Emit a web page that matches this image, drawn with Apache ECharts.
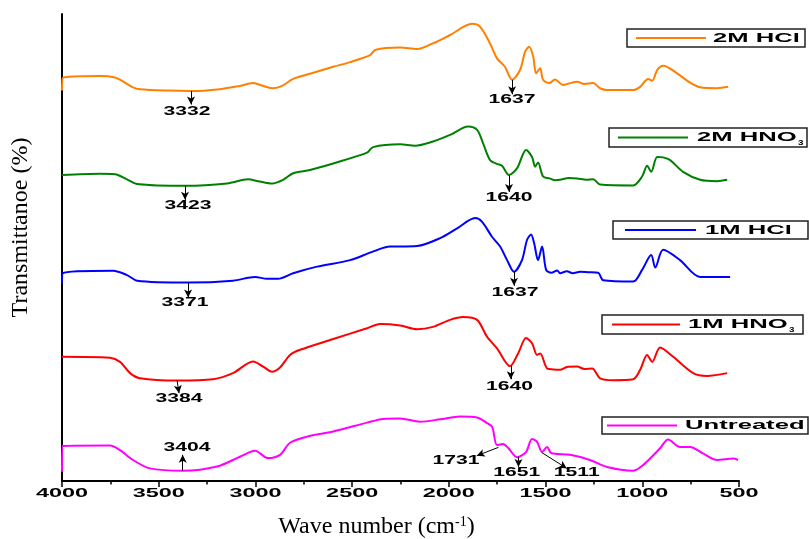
<!DOCTYPE html>
<html><head><meta charset="utf-8">
<script src="https://cdn.jsdelivr.net/npm/echarts@6/dist/echarts.min.js"></script>
<style>html,body{margin:0;padding:0;background:#fff}#c{width:809px;height:539px}</style>
</head><body><div id="c"></div><script>
// ---------- DATA ----------
const xTickLabels = [4000, 3500, 3000, 2500, 2000, 1500, 1000, 500];
const seriesNames = ['2M HCl', '2M HNO\u2083', '1M HCl', '1M HNO\u2083', 'Untreated'];
const legendMain = ['2M HCl', '2M HNO', '1M HCl', '1M HNO', 'Untreated'];
const legendSub = ['', '3', '', '3', ''];

const hcl2M = [[4000,83.6],[3996,86.3],[3803,86.7],[3726,86.4],[3690,85.7],[3633,84.3],[3597,83.9],[3457,83.6],[3333,83.5],[3183,83.9],[3080,84.6],[3012,85.2],[2960,84.6],[2909,84.1],[2862,84.6],[2805,86.1],[2718,87.2],[2598,88.7],[2511,89.7],[2407,91.2],[2381,92.3],[2252,92.8],[2164,92.5],[2082,93.7],[1994,95.5],[1880,97.9],[1839,97.3],[1787,93.7],[1751,90.5],[1710,88.7],[1673,85.9],[1632,88.0],[1606,91.9],[1585,93.0],[1564,90.9],[1549,87.3],[1528,88.4],[1513,85.9],[1480,85.2],[1452,86.0],[1409,84.8],[1380,85.1],[1337,85.5],[1300,85.0],[1254,85.2],[1218,84.1],[1182,83.7],[1047,83.7],[1011,84.4],[970,86.1],[949,85.7],[923,88.0],[892,88.9],[820,87.3],[753,85.3],[701,84.3],[613,84.1],[556,84.4]];

const hno32M = [[4000,65.5],[3803,65.8],[3726,65.7],[3664,64.6],[3612,63.6],[3364,63.2],[3147,63.7],[3038,64.6],[2986,64.2],[2914,63.7],[2857,64.5],[2805,65.9],[2718,66.6],[2598,68.0],[2423,70.3],[2392,71.5],[2252,72.1],[2175,71.8],[2082,72.7],[1994,74.1],[1901,75.9],[1854,75.2],[1823,72.3],[1787,68.7],[1751,67.9],[1725,67.5],[1689,65.5],[1647,67.0],[1601,70.9],[1570,69.4],[1554,67.3],[1539,68.2],[1513,65.2],[1480,64.8],[1450,64.4],[1425,64.5],[1380,64.9],[1337,64.8],[1290,64.5],[1254,64.6],[1218,63.5],[1047,63.3],[1001,65.2],[975,67.5],[954,66.2],[923,69.4],[892,69.3],[856,68.7],[789,66.2],[701,64.5],[613,64.2],[561,64.5]];

const hcl1M = [[4000,42.3],[3996,44.5],[3736,45.0],[3664,44.1],[3612,42.9],[3348,42.5],[3116,42.9],[3002,43.7],[2940,43.3],[2883,43.3],[2805,44.5],[2681,45.9],[2511,47.3],[2400,49.0],[2304,50.2],[2252,50.2],[2164,50.3],[2045,52.0],[1957,54.1],[1864,56.3],[1828,55.5],[1777,52.3],[1735,50.2],[1699,47.3],[1663,44.8],[1622,47.3],[1596,51.6],[1575,52.8],[1559,50.9],[1539,47.3],[1518,50.2],[1497,45.2],[1470,44.6],[1440,45.1],[1425,44.5],[1390,44.9],[1360,44.5],[1321,44.8],[1280,44.7],[1228,44.6],[1202,43.0],[1047,42.7],[1001,45.2],[954,48.4],[933,45.7],[892,49.5],[805,47.3],[701,43.7],[546,43.7]];

const hno31M = [[4000,26.6],[3752,26.4],[3700,25.5],[3648,23.1],[3597,22.0],[3405,21.5],[3219,21.8],[3116,23.1],[3012,25.6],[2960,24.5],[2914,23.4],[2873,24.3],[2821,27.0],[2769,28.1],[2598,30.4],[2423,32.7],[2356,33.6],[2252,33.3],[2164,32.5],[2082,33.0],[1994,34.5],[1926,35.1],[1854,34.5],[1803,30.9],[1751,28.4],[1684,24.6],[1642,27.3],[1601,30.6],[1570,29.5],[1544,27.0],[1528,27.3],[1492,24.1],[1460,23.9],[1425,23.8],[1390,24.4],[1337,24.5],[1300,24.0],[1259,24.1],[1218,22.0],[1151,21.6],[1047,21.8],[1011,23.8],[975,27.0],[949,25.5],[908,28.6],[840,26.6],[737,23.1],[665,22.5],[561,23.1]];

const untreated = [[4000,2.0],[3996,7.5],[3752,7.6],[3700,6.6],[3633,4.5],[3545,2.7],[3374,2.2],[3198,3.1],[3080,5.2],[3002,6.5],[2935,4.9],[2873,5.6],[2821,8.2],[2733,9.5],[2598,10.6],[2423,12.5],[2340,13.3],[2252,13.4],[2149,12.7],[2045,13.2],[1942,13.8],[1854,13.6],[1803,12.4],[1776,11.6],[1751,7.7],[1720,7.9],[1694,7.1],[1647,5.1],[1601,6.2],[1570,9.0],[1544,8.4],[1518,6.2],[1492,7.3],[1471,6.0],[1373,5.6],[1270,4.5],[1182,3.0],[1047,2.2],[996,3.4],[908,7.0],[867,8.9],[805,7.3],[753,7.3],[686,5.9],[613,4.5],[530,4.8],[505,4.5]];

// peak annotations: series index, label, arrow start, arrow end, label centre (data units)
const annotations = [
  {s:0, text:'3332', from:[3333,83.5], to:[3333,80.6], at:[3354,79.0]},
  {s:0, text:'1637', from:[1673,85.9], to:[1673,82.8], at:[1673,81.7]},
  {s:1, text:'3423', from:[3364,63.2], to:[3364,60.2], at:[3348,59.0]},
  {s:1, text:'1640', from:[1689,65.5], to:[1689,61.9], at:[1689,60.7]},
  {s:2, text:'3371', from:[3348,42.5], to:[3348,39.3], at:[3364,38.1]},
  {s:2, text:'1637', from:[1663,44.8], to:[1663,41.8], at:[1658,40.3]},
  {s:3, text:'3384', from:[3405,21.5], to:[3395,18.8], at:[3395,17.7]},
  {s:3, text:'1640', from:[1680,24.6], to:[1680,21.8], at:[1686,20.3]},
  {s:4, text:'3404', from:[3376,2.2], to:[3376,5.6], at:[3354,7.2]},
  {s:4, text:'1731', from:[1744,7.2], to:[1856,5.4], at:[1963,4.3]},
  {s:4, text:'1651', from:[1640,5.2], to:[1640,3.0], at:[1649,1.8]},
  {s:4, text:'1511', from:[1520,6.1], to:[1390,2.7], at:[1339,1.7]}
];

// ---------- STYLE / LAYOUT ----------
const colors = ['#FF8000', '#008000', '#0000FF', '#FF0000', '#FF00FF'];
const allData = [hcl2M, hno32M, hcl1M, hno31M, untreated];
const legendLayout = [
  {box:[627,29,178,18], line:[636,706], cy:38,  tx:713, sub:9},
  {box:[609,128,198,19], line:[618,688], cy:137.5, tx:697, sub:9.5},
  {box:[613,221,195,18], line:[625,696], cy:230, tx:705, sub:9},
  {box:[602,315,201,19], line:[612,680], cy:324.5, tx:688, sub:9.5},
  {box:[602,417,206,17], line:[607,677], cy:425.5, tx:685, sub:9}
];
const sansFam = '"Liberation Sans", Arial, sans-serif';
const serifFam = '"Liberation Serif", "Times New Roman", serif';

const series = allData.map((d, i) => ({
  name: seriesNames[i], type: 'line', data: d, showSymbol: false, symbol: 'none',
  smooth: 0.3, lineStyle: {color: colors[i], width: 2}, itemStyle: {color: colors[i]},
  silent: true, z: 2,
  markLine: {
    silent: true, symbol: ['none', 'arrow'], symbolSize: [6, 8], animation: false,
    label: {show: false}, lineStyle: {color: '#000', width: 1, type: 'solid'},
    emphasis: {disabled: true},
    data: annotations.filter(a => a.s === i).map(a => [{coord: a.from}, {coord: a.to}])
  }
}));

const option = {
  animation: false,
  backgroundColor: '#fff',
  grid: {left: 62, right: 70, top: 14, bottom: 58, containLabel: false, outerBoundsMode: 'none'},
  xAxis: {
    type: 'value', min: 500, max: 4000, interval: 500, inverse: true,
    axisLine: {show: true, onZero: false, lineStyle: {color: '#000', width: 2}},
    axisTick: {show: true, inside: false, length: 6, lineStyle: {color: '#000', width: 1.5}},
    minorTick: {show: true, splitNumber: 2, length: 3.5, lineStyle: {color: '#000', width: 1.5}},
    axisLabel: {show: false}, splitLine: {show: false}, minorSplitLine: {show: false},
    name: 'Wave number (cm{sup|-1})', nameLocation: 'middle', nameGap: 34,
    nameTextStyle: {fontFamily: serifFam, fontSize: 24, color: '#000', padding: [0, 48, 0, 0],
      rich: {sup: {fontFamily: serifFam, fontSize: 14, color: '#000', padding: [0, 0, 10, 0]}}}
  },
  yAxis: {
    type: 'value', min: 0, max: 100,
    axisLine: {show: true, lineStyle: {color: '#000', width: 2}},
    axisTick: {show: false}, axisLabel: {show: false}, splitLine: {show: false},
    name: 'Transmittanoe (%)', nameLocation: 'middle', nameGap: 29,
    nameTextStyle: {fontFamily: serifFam, fontSize: 24, color: '#000', padding: [0, 0, 0, 40]}
  },
  series: series
};

const chart = echarts.init(document.getElementById('c'), null, {renderer: 'canvas'});
chart.setOption(option);

const toPx = (x, y) => chart.convertToPixel({xAxisIndex: 0, yAxisIndex: 0}, [x, y]);
const mctx = document.createElement('canvas').getContext('2d');
function textW(t, size) { mctx.font = 'bold ' + size + 'px ' + sansFam; return mctx.measureText(t).width; }

const g = [];
function txt(x, y, t, size, sx, align, valign) {
  g.push({type: 'text', x: x, y: y, scaleX: sx, silent: true, z: 10,
    style: {text: t, fontFamily: sansFam, fontWeight: 'bold', fontSize: size, fill: '#000',
      align: align, verticalAlign: valign}});
}
// x tick labels
xTickLabels.forEach(t => { const p = toPx(t, 0); txt(p[0], p[1] + 13, String(t), 12, 1.95, 'center', 'middle'); });
// annotation labels
annotations.forEach(a => { const p = toPx(a.at[0], a.at[1]); txt(p[0], p[1], a.text, 12, 1.76, 'center', 'middle'); });
// legends (one boxed entry per series)
legendLayout.forEach((L, i) => {
  g.push({type: 'rect', silent: true, z: 9, shape: {x: L.box[0], y: L.box[1], width: L.box[2], height: L.box[3]},
    style: {fill: '#fff', stroke: '#222', lineWidth: 1.5}});
  g.push({type: 'line', silent: true, z: 10, shape: {x1: L.line[0], y1: L.cy, x2: L.line[1], y2: L.cy},
    style: {stroke: colors[i], lineWidth: 2}});
  txt(L.tx, L.cy, legendMain[i], 13, 1.97, 'left', 'middle');
  if (legendSub[i]) {
    const w = textW(legendMain[i], 13) * 1.97;
    txt(L.tx + w + 1.5, L.cy + L.sub, legendSub[i], 7, 1.4, 'left', 'bottom');
  }
});
chart.setOption({graphic: {elements: g}});
</script></body></html>
